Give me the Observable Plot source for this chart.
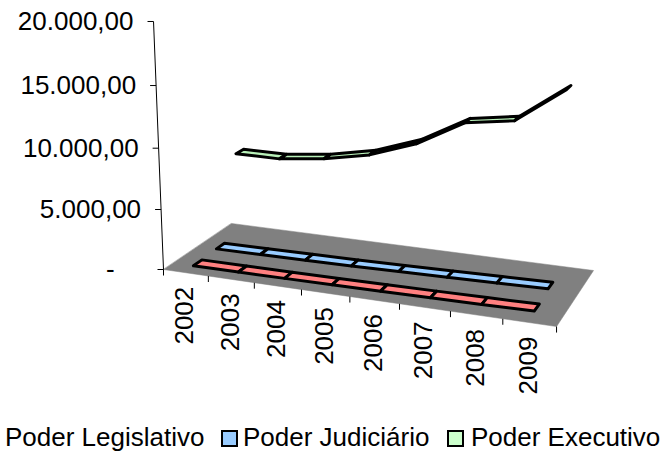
<!DOCTYPE html>
<html>
<head>
<meta charset="utf-8">
<script src="https://cdn.jsdelivr.net/npm/d3@7"></script>
<script src="https://cdn.jsdelivr.net/npm/@observablehq/plot@0.6"></script>
<style>
html,body{margin:0;padding:0;background:#fff}
#legend{height:36px;position:relative;font:26px "Liberation Sans",Arial,sans-serif;color:#000;white-space:nowrap}
#legend span{position:absolute;top:1px;line-height:32px}
#legend i{position:absolute;top:10px;width:13px;height:13px;border:2.5px solid #000}
</style>
</head>
<body>
<div id="chart"></div>
<div id="legend"></div>
<script>
const years = [2002, 2003, 2004, 2005, 2006, 2007, 2008, 2009];
const legislativo = [130, 150, 170, 200, 240, 280, 330, 400];
const judiciario = [200, 240, 280, 330, 400, 470, 560, 650];
const executivo = [7250, 7220, 7650, 8390, 9720, 11820, 12360, 15160];
const yTicks = [0, 5000, 10000, 15000, 20000];
const yLabels = ["-\u00a0\u00a0\u00a0\u00a0", "5.000,00", "10.000,00", "15.000,00", "20.000,00"];
const seriesNames = ["Poder Legislativo", "Poder Judiciário", "Poder Executivo"];
const seriesFill = ["#ff8080", "#99ccff", "#b8f0b8"];
const legendFill = ["none", "#99ccff", "#ccffcc"];

// Perspective projection of the 3D chart box (u: years, w: series depth, h: value)
const yMax = 20000, H = 420;
const M = {
  a: 338.4, b: 90.1, mx: -16.5, c: 163,
  d: 25, e: -24.7, my: -248.9, f: 269,
  g: -0.0983, k: 0.0957, n: -0.0426
};
function project(u, w, v) {
  const h = v / yMax;
  const W = M.g * u + M.k * w + M.n * h + 1;
  return [(M.a * u + M.b * w + M.mx * h + M.c) / W, (M.d * u + M.e * w + M.my * h + M.f) / W];
}
const uAt = i => (i + 0.5) / years.length;
const half = 0.06;

const floor = [[0, 0], [1, 0], [1, 1], [0, 1]].map(([u, w]) => {
  const [x, y] = project(u, w, 0);
  return {x, y};
});

const ribbons = [];
[legislativo, judiciario, executivo].forEach((vals, s) => {
  const wc = (s + 0.5) / 3;
  for (let i = 0; i < vals.length - 1; i++) {
    [[i, wc - half], [i + 1, wc - half], [i + 1, wc + half], [i, wc + half]].forEach(([j, w]) => {
      const [x, y] = project(uAt(j), w, vals[j]);
      ribbons.push({x, y, key: s + "-" + i, series: seriesNames[s], fill: seriesFill[s], year: years[j]});
    });
  }
});

const yAxisLine = [0, yMax].map(v => project(0, 0, v));
const yTickRows = yTicks.map((v, i) => {
  const [x, y] = project(0, 0, v);
  return {x, y, label: yLabels[i]};
});
const xTickRows = d3.range(years.length + 1).map(i => {
  const [x, y] = project(i / years.length, 0, 0);
  return {x, y};
});
const xLabelRows = years.map((yr, i) => {
  const [x, y] = project(uAt(i), 0, 0);
  return {x, y, label: String(yr)};
});

const chart = Plot.plot({
  width: 667, height: H,
  margin: 0,
  style: {background: "#fff", overflow: "visible"},
  x: {domain: [0, 667], range: [0, 667], axis: null},
  y: {domain: [0, H], range: [0, H], axis: null},
  marks: [
    Plot.line(floor, {x: "x", y: "y", curve: "linear-closed", fill: "#808080", stroke: "#808080", strokeWidth: 0.5}),
    Plot.line(ribbons, {x: "x", y: "y", z: "key", curve: "linear-closed", fill: "fill", stroke: "#000", strokeWidth: 3, strokeLinejoin: "round"}),
    Plot.link([yAxisLine], {x1: d => d[0][0], y1: d => d[0][1], x2: d => d[1][0], y2: d => d[1][1], stroke: "#000", strokeWidth: 1}),
    Plot.link(yTickRows, {x1: d => d.x - 6, x2: "x", y1: "y", y2: "y", stroke: "#000", strokeWidth: 1}),
    Plot.link(xTickRows, {x1: "x", x2: "x", y1: "y", y2: d => d.y + 6, stroke: "#000", strokeWidth: 1}),
    Plot.text(yTickRows, {x: d => d.x - 20, y: "y", text: "label", textAnchor: "end", fontSize: 26, fontFamily: "Liberation Sans", fill: "#000"}),
    Plot.text(xLabelRows, {x: d => d.x - 1, y: d => d.y + 14, text: "label", rotate: -90, textAnchor: "end", fontSize: 26, fontFamily: "Liberation Sans", fill: "#000"})
  ]
});
document.getElementById("chart").appendChild(chart);

const legend = document.getElementById("legend");
const textX = [5, 243, 471];
const swatchX = [null, 221, 447];
seriesNames.forEach((name, i) => {
  if (swatchX[i] !== null) {
    const sw = document.createElement("i");
    sw.style.left = swatchX[i] + "px";
    sw.style.background = legendFill[i];
    legend.appendChild(sw);
  }
  const sp = document.createElement("span");
  sp.textContent = name;
  sp.style.left = textX[i] + "px";
  legend.appendChild(sp);
});
</script>
</body>
</html>
